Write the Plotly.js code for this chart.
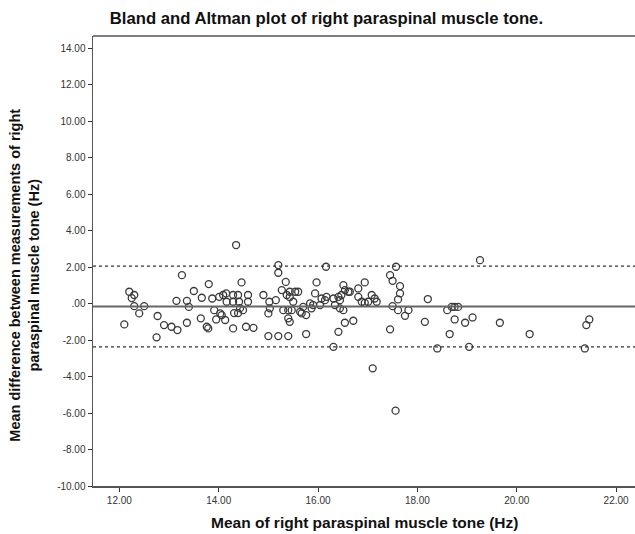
<!DOCTYPE html>
<html>
<head>
<meta charset="utf-8">
<script src="https://cdn.plot.ly/plotly-3.0.1.min.js"></script>
<style>html,body{margin:0;padding:0;background:#fff;}#chart{width:635px;height:534px;}</style>
</head>
<body>
<div id="chart"></div>
<script>
// Mean of the two measurements (Hz)
const meanTone = [
 13.26,12.20,12.30,12.25,12.30,12.50,12.40,12.10,12.75,12.77,12.90,13.05,13.17,13.15,13.36,13.40,13.36,13.50,13.66,13.80,
 13.64,13.76,13.79,13.87,13.91,13.95,14.01,14.09,14.15,14.06,14.13,14.16,
 14.35,14.46,15.20,15.20,16.16,15.97,14.03,14.29,14.39,14.41,14.29,14.59,14.59,14.43,14.49,14.31,14.39,14.29,14.55,14.70,
 14.90,15.02,15.03,15.00,15.15,15.00,15.20,15.40,15.27,15.35,15.43,15.54,15.60,15.37,15.43,15.30,15.40,15.47,15.40,15.43,
 15.50,15.64,15.70,15.67,15.76,15.76,15.84,15.87,15.90,15.94,16.04,16.07,16.14,16.17,16.31,16.41,16.44,16.47,16.51,16.54,
 16.61,16.34,16.44,16.51,16.41,16.54,16.71,16.31,16.81,16.81,
 19.26,17.57,17.45,17.50,17.65,17.65,17.61,17.50,17.61,17.82,17.75,17.45,16.64,16.94,16.88,16.94,17.01,17.08,17.14,17.18,
 18.21,18.15,18.60,18.69,18.75,18.82,18.75,18.96,19.11,18.65,18.40,19.04,
 19.66,20.26,21.37,21.46,21.40,17.10,17.56
];
// Difference between the two measurements (Hz)
const diffTone = [
 1.56,0.65,0.47,0.30,-0.14,-0.14,-0.54,-1.14,-1.85,-0.68,-1.18,-1.27,-1.45,0.15,0.15,-0.18,-1.05,0.69,0.32,1.07,
 -0.81,-1.27,-1.36,0.28,-0.36,-0.87,0.37,0.47,0.56,-0.63,-0.90,0.10,
 3.21,1.16,2.11,1.69,2.02,1.16,-0.54,0.47,0.47,0.10,0.10,0.47,0.10,-0.25,-0.36,-0.52,-0.52,-1.36,-1.27,-1.33,
 0.47,0.10,-0.26,-0.54,0.19,-1.78,-1.78,-1.78,0.74,1.19,0.65,0.65,0.65,0.47,0.36,-0.36,-0.36,-0.36,-0.81,-1.00,
 0.10,-0.45,-0.18,-0.54,-0.63,-1.67,0.01,-0.26,-0.08,0.56,-0.08,0.28,0.19,0.37,0.28,0.37,0.19,0.47,1.01,0.74,
 0.65,-0.08,-0.26,-0.36,-1.55,-1.05,-0.94,-2.37,0.83,0.37,
 2.38,2.02,1.56,1.25,0.96,0.56,0.23,-0.14,-0.36,-0.36,-0.67,-1.41,0.65,1.16,0.10,0.04,0.10,0.47,0.28,0.10,
 0.25,-1.00,-0.36,-0.18,-0.18,-0.18,-0.87,-1.05,-0.76,-1.67,-2.46,-2.37,
 -1.05,-1.67,-2.46,-0.87,-1.18,-3.55,-5.87
];
const meanDiff = -0.16;
const upperLimit = 2.05;
const lowerLimit = -2.37;

const xTickVals = [12,14,16,18,20,22];
const xTickText = ["12.00","14.00","16.00","18.00","20.00","22.00"];
const yTickVals = [14,12,10,8,6,4,2,0,-2,-4,-6,-8,-10];
const yTickText = ["14.00","12.00","10.00","8.00","6.00","4.00","2.00",".00","-2.00","-4.00","-6.00","-8.00","-10.00"];

const FONT = "Liberation Sans, Arial, sans-serif";

const trace = {
  type: "scatter", mode: "markers",
  x: meanTone, y: diffTone,
  marker: {symbol: "circle-open", size: 7, color: "#3a3a3a", line: {width: 1.3, color: "#3a3a3a"}},
  hoverinfo: "x+y", showlegend: false
};

const layout = {
  width: 635, height: 534,
  margin: {l: 93, r: 0, t: 36, b: 48},
  paper_bgcolor: "#fff", plot_bgcolor: "#fff",
  font: {family: FONT, color: "#222"},
  title: {text: "<b>Bland and Altman plot of right paraspinal muscle tone.</b>",
          font: {family: FONT, size: 16.7, color: "#111"},
          xref: "container", x: 0.514, xanchor: "center", yref: "container", y: 0.966, yanchor: "middle"},
  xaxis: {range: [11.47, 22.38], showgrid: false, zeroline: false, showline: true, linecolor: "#555", linewidth: 1.5,
          ticks: "outside", ticklen: 4, tickcolor: "#333", tickvals: xTickVals, ticktext: xTickText,
          tickfont: {family: FONT, size: 10, color: "#333"}},
  yaxis: {range: [-10, 14.67], showgrid: false, zeroline: false, showline: true, linecolor: "#555", linewidth: 1.5,
          ticks: "outside", ticklen: 4, tickcolor: "#333", tickvals: yTickVals, ticktext: yTickText,
          tickfont: {family: FONT, size: 10, color: "#333"}},
  annotations: [
    {text: "<b>Mean difference between measurements of right<br>paraspinal muscle tone (Hz)</b>",
     xref: "paper", yref: "paper", x: -0.09, y: 0.469, xanchor: "right", yanchor: "middle",
     textangle: -90, showarrow: false, font: {family: FONT, size: 14.5, color: "#111"}},
    {text: "<b>Mean of right paraspinal muscle tone (Hz)</b>",
     xref: "paper", yref: "paper", x: 0.5, y: -0.08, xanchor: "center", yanchor: "middle",
     showarrow: false, font: {family: FONT, size: 15.5, color: "#111"}}
  ],
  shapes: [
    {type: "line", xref: "paper", yref: "paper", x0: 0, x1: 1, y0: 1, y1: 1, line: {color: "#555", width: 1.5}},
    {type: "line", xref: "paper", yref: "y", x0: 0, x1: 1, y0: meanDiff, y1: meanDiff, line: {color: "#666", width: 1.8}},
    {type: "line", xref: "paper", yref: "y", x0: 0, x1: 1, y0: upperLimit, y1: upperLimit, line: {color: "#333", width: 1.3, dash: "dot"}},
    {type: "line", xref: "paper", yref: "y", x0: 0, x1: 1, y0: lowerLimit, y1: lowerLimit, line: {color: "#333", width: 1.3, dash: "dot"}}
  ]
};

Plotly.newPlot("chart", [trace], layout, {displayModeBar: false, staticPlot: true});
</script>
</body>
</html>
